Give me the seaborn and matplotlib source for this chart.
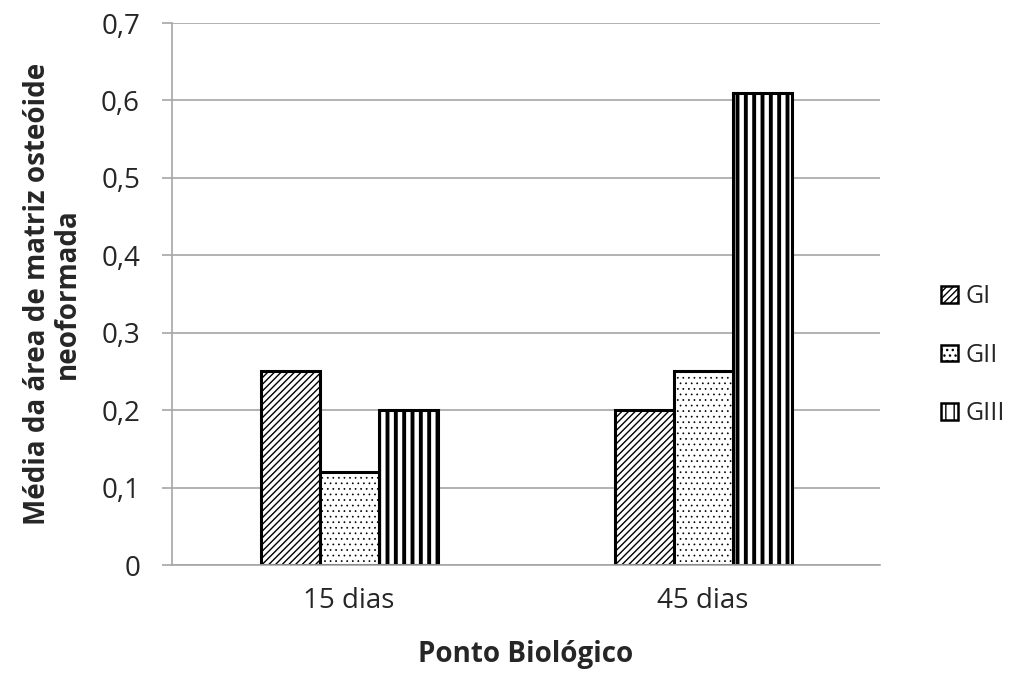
import matplotlib
matplotlib.use("Agg")
import matplotlib.pyplot as plt
import matplotlib.ticker as mticker
import seaborn as sns
import pandas as pd

categories = ["15 dias", "45 dias"]
groups = ["GI", "GII", "GIII"]
values_GI = [0.25, 0.20]
values_GII = [0.12, 0.25]
values_GIII = [0.20, 0.61]
yticks = [0, 0.1, 0.2, 0.3, 0.4, 0.5, 0.6, 0.7]

rows = []
for g, vals in zip(groups, [values_GI, values_GII, values_GIII]):
    for c, v in zip(categories, vals):
        rows.append({"Ponto": c, "Grupo": g, "Valor": v})
df = pd.DataFrame(rows)

sns.set_style("white")
plt.rcParams['font.family'] = ['Open Sans', 'DejaVu Sans']
plt.rcParams['hatch.linewidth'] = 1.0
plt.rcParams['hatch.color'] = 'black'

FS = 20
fig = plt.figure(figsize=(10.14, 6.79), dpi=100)
ax = fig.add_axes([172/1014, 1-565/679, (880-172)/1014, (565-23)/679])

sns.barplot(data=df, x="Ponto", y="Valor", hue="Grupo", order=categories,
            hue_order=groups, palette=["white"]*3, width=0.5,
            edgecolor="black", linewidth=2.2, ax=ax, legend=True)

hatches = {"GI": "/////", "GII": "...", "GIII": "||"}
hlw = {"GI": 1.0, "GII": 0.5, "GIII": 2.8}
for container, g in zip(ax.containers, groups):
    for p in container:
        p.set_hatch(hatches[g])
        try:
            p.set_hatch_linewidth(hlw[g])
        except Exception:
            pass

ax.set_ylim(0, 0.7)
ax.set_yticks(yticks)
ax.yaxis.set_major_formatter(mticker.FuncFormatter(lambda v, p: ("%.1f" % v).replace(".", ",") if v != 0 else "0"))
ax.grid(axis="y", color="#a6a6a6", linewidth=1.2)
ax.set_axisbelow(True)
for s in ["top", "right"]:
    ax.spines[s].set_visible(False)
ax.spines["left"].set_color("#a6a6a6")
ax.spines["bottom"].set_color("#a6a6a6")
ax.spines["left"].set_linewidth(1.2)
ax.spines["bottom"].set_linewidth(1.2)
ax.tick_params(axis="y", which="major", left=True, length=7, width=1.2, color="#a6a6a6",
               labelsize=FS, labelcolor="#262626", pad=16)
ax.tick_params(axis="x", bottom=False, labelsize=FS, labelcolor="#262626", pad=12)

ax.set_xlabel("Ponto Biológico", fontsize=FS, fontweight="bold", labelpad=18)
ax.set_ylabel("Média da área de matriz osteóide\nneoformada", fontsize=FS,
              fontweight="bold", labelpad=14, linespacing=1.05)

handles, labels = ax.get_legend_handles_labels()
for h, g in zip(handles, groups):
    h.set_hatch(hatches[g])
    h.set_linewidth(1.8)
    try:
        h.set_hatch_linewidth(hlw[g])
    except Exception:
        pass
leg = ax.legend(handles, labels, loc="center left", bbox_to_anchor=(1.055, 0.387),
                frameon=False, fontsize=18, handlelength=0.65, handleheight=0.65,
                handletextpad=0.3, labelspacing=1.35, labelcolor="#262626")

fig.savefig("out.png", dpi=100)
